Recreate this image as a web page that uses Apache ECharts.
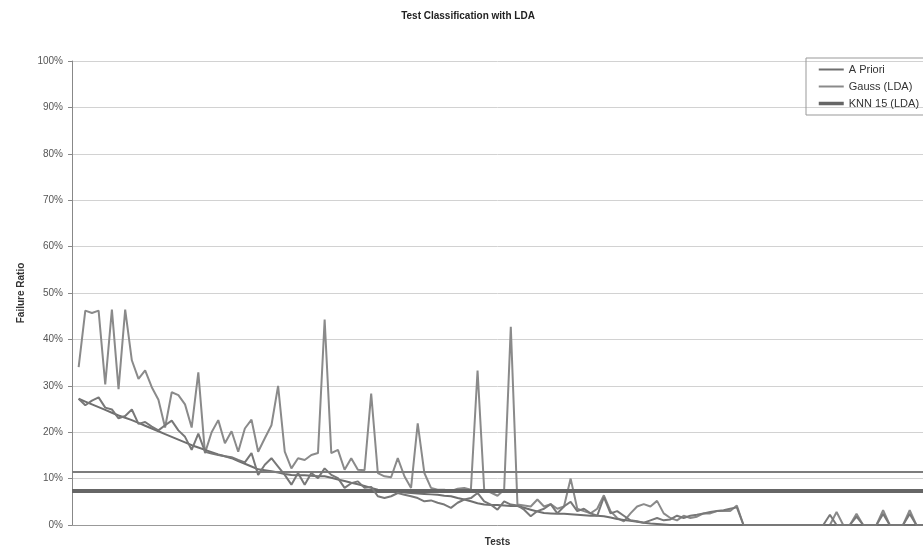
<!DOCTYPE html>
<html>
<head>
<meta charset="utf-8">
<script src="https://cdn.jsdelivr.net/npm/echarts@6/dist/echarts.min.js"></script>
<style>
html,body{margin:0;padding:0;background:#fff;}
#chart{width:923px;height:552px;}
</style>
</head>
<body>
<div id="chart"></div>
<script>
// Y tick values (percent)
const yTicks = [0,10,20,30,40,50,60,70,80,90,100];
const seriesNames = ['A Priori', 'Gauss (LDA)', 'KNN 15 (LDA)'];

// A Priori failure ratio per test (%)
const aPriori = [
  27.2,26.6,26.0,25.4,24.8,24.2,23.6,23.1,22.6,22.0,
  21.4,20.8,20.2,19.6,19.0,18.4,17.8,17.2,16.7,16.2,
  15.7,15.2,14.8,14.4,13.8,13.2,12.6,12.0,11.8,11.6,
  11.3,11.0,10.8,10.7,10.7,10.6,10.5,10.5,10.2,9.8,
  9.5,9.1,8.8,8.4,8.0,7.6,7.3,7.2,7.1,7.0,
  6.9,6.8,6.7,6.6,6.5,6.3,6.2,5.8,5.5,5.1,
  4.7,4.4,4.3,4.3,4.2,4.1,4.1,3.7,3.3,2.9,
  2.6,2.5,2.4,2.4,2.3,2.2,2.1,2.0,2.0,1.9,
  1.6,1.3,1.1,0.9,0.7,0.5,0.3,0.2,0.1,0,
  0,0,0,0,0,0,0,0,0,0,
  0,0,0,0,0,0,0,0,0,0,
  0,0,0,0,0,0,0,0,0,0,
  0,0,0,0,0,0,0,0
];

// Gauss (LDA) failure ratio per test (%)
const gauss = [
  34.0,46.2,45.7,46.2,30.3,46.4,29.3,46.4,35.5,31.5,
  33.3,29.7,27.0,21.0,28.6,28.0,26.0,21.0,32.9,15.5,
  20.0,22.6,17.6,20.2,15.8,20.8,22.7,15.8,18.7,21.5,
  30.0,15.8,12.2,14.4,14.0,15.1,15.5,44.3,15.5,16.2,
  11.9,14.4,11.9,11.8,28.3,11.2,10.5,10.3,14.4,10.5,
  8.0,21.9,11.2,8.0,7.6,7.6,7.3,7.8,8.0,7.6,
  33.3,7.6,7.0,6.3,7.6,42.7,4.4,4.2,4.0,5.5,
  4.0,4.5,3.5,4.0,10.0,3.5,3.0,2.5,3.5,6.4,
  3.0,1.5,0.8,2.5,4.0,4.5,4.0,5.2,2.5,1.5,
  1.0,2.0,1.5,1.8,2.5,2.5,3.0,3.0,3.0,4.2,
  0,0,0,0,0,0,0,0,0,0,
  0,0,0,0,2.8,0,0,2.4,0,0,
  0,3.2,0,0,0,3.2,0,0
];

// KNN 15 (LDA) failure ratio per test (%)
const knn15 = [
  27.2,25.8,26.8,27.5,25.3,24.9,23.0,23.5,24.9,21.8,
  22.2,21.2,20.4,21.5,22.5,20.4,19.0,16.2,19.7,15.8,
  15.4,15.1,14.8,14.6,14.0,13.5,15.5,10.8,13.0,14.4,
  12.6,10.8,8.7,11.2,8.7,11.2,10.1,12.2,10.8,10.1,
  8.0,9.0,9.4,8.0,8.2,6.2,5.8,6.2,6.9,6.5,
  6.2,5.8,5.1,5.3,4.8,4.4,3.7,4.8,5.5,5.8,
  6.9,5.1,4.4,3.3,5.1,4.4,4.2,3.3,1.9,3.0,
  3.5,4.5,2.5,4.0,5.0,3.0,3.5,2.5,2.0,6.0,
  2.5,3.0,2.0,1.0,0.8,0.5,1.0,1.5,1.0,1.2,
  2.0,1.5,2.0,2.2,2.5,2.8,3.0,3.2,3.5,3.8,
  0,0,0,0,0,0,0,0,0,0,
  0,0,0,2.2,0,0,0,1.8,0,0,
  0,2.4,0,0,0,2.4,0,0
];

// Overall average levels (%)
const gaussAverage = 11.5;
const knnAverage = 7.3;

const testCount = aPriori.length;
const toPairs = arr => arr.map((v, i) => [i + 1, v]);

const chart = echarts.init(document.getElementById('chart'), null, {renderer: 'canvas'});
const font = 'Liberation Sans, Arial, sans-serif';

chart.setOption({
  animation: false,
  backgroundColor: '#ffffff',
  title: {
    text: 'Test Classification with LDA',
    left: 463, top: 6, textAlign: 'center',
    textStyle: {fontFamily: font, fontSize: 10, fontWeight: 'bold', color: '#222'}
  },
  legend: {
    orient: 'vertical',
    left: 806, top: 58,
    data: [
      {name: seriesNames[0]},
      {name: seriesNames[1]},
      {name: seriesNames[2], lineStyle: {width: 3.5, color: '#666'}}
    ],
    itemStyle: {opacity: 0},
    itemWidth: 25, itemHeight: 12, itemGap: 6,
    padding: [6, 24, 6, 11],
    borderColor: '#999', borderWidth: 1,
    textStyle: {fontFamily: font, fontSize: 11, color: '#333'}
  },
  grid: {left: 72, top: 61, height: 468, right: -4, containLabel: false},
  xAxis: {
    type: 'value', min: 0, max: testCount,
    name: 'Tests', nameLocation: 'middle', nameGap: 12,
    nameTextStyle: {fontFamily: font, fontSize: 10, fontWeight: 'bold', color: '#333'},
    axisLine: {show: true, onZero: false, lineStyle: {color: '#999', width: 1}},
    axisTick: {show: false}, axisLabel: {show: false}, splitLine: {show: false}
  },
  yAxis: {
    type: 'value', min: yTicks[0], max: yTicks[yTicks.length - 1], interval: 10,
    name: 'Failure Ratio', nameLocation: 'middle', nameGap: 46,
    nameTextStyle: {fontFamily: font, fontSize: 10, fontWeight: 'bold', color: '#333'},
    axisLine: {show: true, lineStyle: {color: '#888'}},
    axisTick: {show: true, length: 4, lineStyle: {color: '#888'}},
    axisLabel: {formatter: '{value}%', fontFamily: font, fontSize: 10, color: '#555', margin: 9},
    splitLine: {show: true, lineStyle: {color: '#d2d2d2', width: 1}}
  },
  series: [
    {
      name: seriesNames[0], type: 'line', data: toPairs(aPriori),
      symbol: 'none', lineStyle: {color: '#6f6f6f', width: 2}, itemStyle: {color: '#6f6f6f'},
      z: 4
    },
    {
      name: seriesNames[1], type: 'line', data: toPairs(gauss),
      symbol: 'none', lineStyle: {color: '#8a8a8a', width: 2}, itemStyle: {color: '#8a8a8a'},
      z: 3,
      markLine: {
        symbol: 'none', silent: true, label: {show: false},
        lineStyle: {color: '#7d7d7d', width: 2, type: 'solid'},
        data: [{yAxis: gaussAverage}]
      }
    },
    {
      name: seriesNames[2], type: 'line', data: toPairs(knn15),
      symbol: 'none', lineStyle: {color: '#787878', width: 2}, itemStyle: {color: '#666'},
      z: 5,
      markLine: {
        symbol: 'none', silent: true, label: {show: false},
        lineStyle: {color: '#666', width: 4, type: 'solid'},
        data: [{yAxis: knnAverage}]
      }
    }
  ]
});
</script>
</body>
</html>
